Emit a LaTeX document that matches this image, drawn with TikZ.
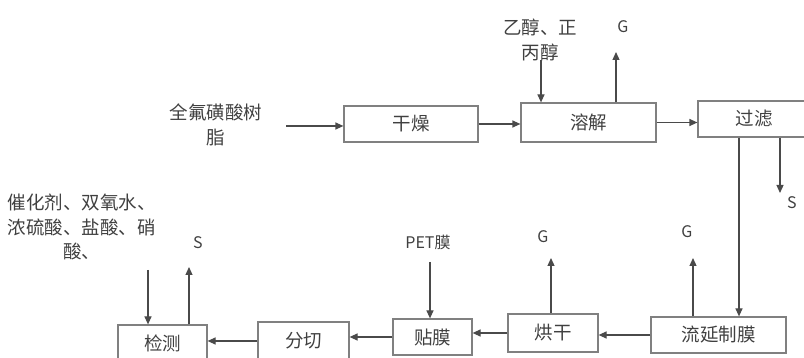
\documentclass[tikz,border=0pt]{standalone}
\usepackage{fontspec}
\setmainfont{Noto Sans CJK SC}
\usetikzlibrary{arrows.meta}
\definecolor{boxgray}{HTML}{808080}
\definecolor{lngray}{HTML}{4A4A4A}
\definecolor{txtgray}{HTML}{404040}
\begin{document}
\begin{tikzpicture}[x=1pt,y=-1pt,
  box/.style={draw=boxgray, line width=1.2pt, inner sep=0pt, text=txtgray,
    font=\fontsize{18.5}{21}\selectfont},
  lbl/.style={inner sep=0pt, text=txtgray, align=center,
    font=\fontsize{18.5}{24.5}\selectfont},
  lat/.style={inner sep=0pt, text=txtgray, font=\fontsize{16}{18}\selectfont},
  arr/.style={draw=lngray, line width=1.2pt, -{Triangle[length=8pt,width=7pt]}}]
\useasboundingbox (0,0) rectangle (804,358);

% boxes
\node[box, minimum width=134pt, minimum height=36pt] (gz) at (411,124) {干燥};
\node[box, minimum width=135pt, minimum height=39pt] (rj) at (588.5,122.5) {溶解};
\node[box, minimum width=112pt, minimum height=36pt] (gl) at (754,119) {过滤};
\node[box, minimum width=135pt, minimum height=36pt] (ly) at (718.5,335) {流延制膜};
\node[box, minimum width=90pt, minimum height=38pt] (hg) at (553,333) {烘干};
\node[box, minimum width=79pt, minimum height=36pt] (tm) at (432.5,337) {贴膜};
\node[box, minimum width=91pt, minimum height=38pt] (fq) at (303.5,341) {分切};
\node[box, minimum width=89pt, minimum height=36pt] (jc) at (162.5,343) {检测};

% labels
\node[lbl] (qf) at (216,125) {全氟磺酸树\\脂};
\node[lbl] (yc) at (540,40) {乙醇、正\\丙醇};
\node[lat] (tG1) at (623,27) {G};
\node[lat] (tS1) at (792,203) {S};
\node[lat] (tG2) at (687,232) {G};
\node[lat] (tG3) at (543,237) {G};
\node[lat] (tpet) at (428,242) {PET膜};
\node[lat] (tS2) at (198,243) {S};
\node[lbl] (cat) at (82,227) {催化剂、双氧水、\\浓硫酸、盐酸、硝\\酸、};

% free ends
\coordinate (a1) at (286,126);
\coordinate (e1) at (541,60);
\coordinate (g1) at (616,52);
\coordinate (fA) at (739,0);
\coordinate (s1) at (780,193);
\coordinate (g2) at (693,258);
\coordinate (g3) at (551,258);
\coordinate (p1) at (430,262);
\coordinate (c1) at (148,270);
\coordinate (s2) at (189,267);

% connectors
\draw[arr] (a1) -- (a1 -| gz.west);
\draw[arr] (gz.east) -- (gz.east -| rj.west);
\draw[arr] (rj.east) -- (rj.east -| gl.west);
\draw[arr] (e1) -- (e1 |- rj.north);
\draw[arr] (g1 |- rj.north) -- (g1);
\draw[arr] (gl.south -| fA) -- (ly.north -| fA);
\draw[arr] (gl.south -| s1) -- (s1);
\draw[arr] (ly.north -| g2) -- (g2);
\draw[arr] (ly.west) -- (ly.west -| hg.east);
\draw[arr] (hg.north -| g3) -- (g3);
\draw[arr] (hg.west) -- (hg.west -| tm.east);
\draw[arr] (p1) -- (p1 |- tm.north);
\draw[arr] (tm.west) -- (tm.west -| fq.east);
\draw[arr] (fq.west) -- (fq.west -| jc.east);
\draw[arr] (c1) -- (c1 |- jc.north);
\draw[arr] (jc.north -| s2) -- (s2);
\end{tikzpicture}
\end{document}
